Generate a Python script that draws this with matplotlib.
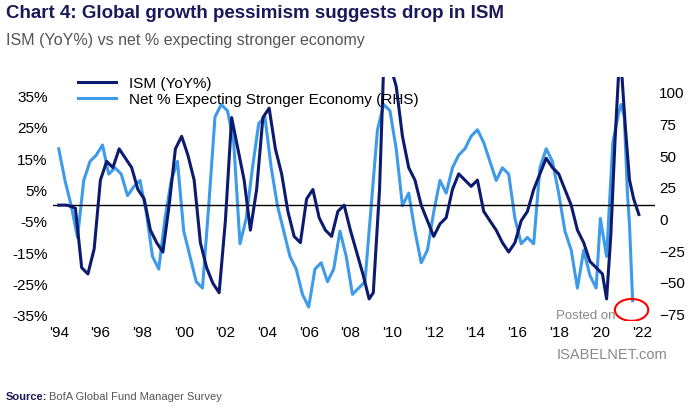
import matplotlib.pyplot as plt
import numpy as np
from matplotlib.patches import Ellipse

plt.rcParams['font.family'] = ['Liberation Sans', 'DejaVu Sans']

ism_x = [1994.0, 1994.4, 1994.8, 1995.1, 1995.4, 1995.7, 1996.0, 1996.3, 1996.6, 1996.9, 1997.2, 1997.5,
         1997.8, 1998.1, 1998.4, 1998.7, 1999.0, 1999.3, 1999.6, 1999.9, 2000.2, 2000.5, 2000.8, 2001.1,
         2001.4, 2001.7, 2002.0, 2002.3, 2002.6, 2002.9, 2003.2, 2003.5, 2003.8, 2004.1, 2004.4, 2004.7,
         2005.0, 2005.3, 2005.6, 2005.9, 2006.2, 2006.5, 2006.8, 2007.1, 2007.4, 2007.7, 2008.0, 2008.3,
         2008.6, 2008.9, 2009.1, 2009.4, 2009.6, 2009.9, 2010.2, 2010.5, 2010.8, 2011.1, 2011.4, 2011.7,
         2012.0, 2012.3, 2012.6, 2012.9, 2013.2, 2013.5, 2013.8, 2014.1, 2014.4, 2014.7, 2015.0, 2015.3,
         2015.6, 2015.9, 2016.2, 2016.5, 2016.8, 2017.1, 2017.4, 2017.7, 2018.0, 2018.3, 2018.6, 2018.9,
         2019.2, 2019.5, 2019.8, 2020.1, 2020.3, 2020.5, 2020.7, 2020.9, 2021.0, 2021.2, 2021.4, 2021.6, 2021.85]
ism_y = [0, 0, -1, -20, -22, -14, 8, 14, 12, 18, 15, 12,
         5, 2, -8, -12, -15, 0, 18, 22, 16, 8, -12, -20,
         -25, -28, -5, 28, 18, 8, -8, 5, 28, 31, 18, 10,
         -2, -10, -12, 2, 5, -4, -8, -10, -2, 0, -8, -15,
         -22, -30, -28, 5, 45, 45, 38, 22, 12, 8, 0, -5,
         -10, -6, -4, 5, 10, 8, 6, 8, -2, -5, -8, -12,
         -15, -12, -5, -2, 5, 10, 15, 12, 10, 5, 0, -8,
         -12, -18, -20, -22, -30, -10, 20, 45, 45, 25, 8, 2, -3]

net_x = [1994.0, 1994.3, 1994.6, 1994.9, 1995.2, 1995.5, 1995.8, 1996.1, 1996.4, 1996.7, 1997.0, 1997.3,
         1997.6, 1997.9, 1998.2, 1998.5, 1998.8, 1999.1, 1999.4, 1999.7, 2000.0, 2000.3, 2000.6, 2000.9,
         2001.2, 2001.5, 2001.8, 2002.1, 2002.4, 2002.7, 2003.0, 2003.3, 2003.6, 2003.9, 2004.2, 2004.5,
         2004.8, 2005.1, 2005.4, 2005.7, 2006.0, 2006.3, 2006.6, 2006.9, 2007.2, 2007.5, 2007.8, 2008.1,
         2008.4, 2008.7, 2009.0, 2009.3, 2009.6, 2009.9, 2010.2, 2010.5, 2010.8, 2011.1, 2011.4, 2011.7,
         2012.0, 2012.3, 2012.6, 2012.9, 2013.2, 2013.5, 2013.8, 2014.1, 2014.4, 2014.7, 2015.0, 2015.3,
         2015.6, 2015.9, 2016.2, 2016.5, 2016.8, 2017.1, 2017.4, 2017.7, 2018.0, 2018.3, 2018.6, 2018.9,
         2019.2, 2019.5, 2019.8, 2020.0, 2020.3, 2020.6, 2020.9, 2021.0, 2021.15, 2021.3, 2021.4, 2021.55]
net_y = [55, 30, 10, -15, 30, 45, 50, 58, 35, 40, 35, 18,
         25, 30, 5, -30, -40, 0, 30, 45, -10, -30, -50, -55,
         10, 80, 90, 85, 60, -20, 0, 40, 75, 80, 40, 10,
         -10, -30, -40, -60, -70, -40, -35, -50, -40, -10, -30, -60,
         -55, -50, 10, 70, 90, 85, 55, 10, 20, -10, -35, -25,
         5, 30, 20, 40, 50, 55, 65, 70, 60, 45, 30, 40,
         35, 0, -20, -15, -20, 40, 55, 45, 20, -10, -25, -55,
         -25, -45, -55, 0, -30, 60, 85, 90, 80, 20, -5, -65]

dark = '#0d1b6e'
light = '#3d9be9'

fig, ax1 = plt.subplots(figsize=(7, 4.1), dpi=100)
fig.subplots_adjust(left=0.075, right=0.935, top=0.81, bottom=0.215)
ax2 = ax1.twinx()
ax1.set_zorder(ax2.get_zorder() + 1)
ax1.patch.set_visible(False)

ax1.axhline(0, color='black', lw=1)
l1, = ax1.plot(ism_x, ism_y, color=dark, lw=2.2, label='ISM (YoY%)')
l2, = ax2.plot(net_x, net_y, color=light, lw=2.2, label='Net % Expecting Stronger Economy (RHS)')

ax1.set_ylim(-37, 41)
ax2.set_ylim(10.5 + 2.47 * -37, 10.5 + 2.47 * 41)
ax1.set_xlim(1993.7, 2022.6)
ax1.set_yticks(range(-35, 36, 10))
ax1.set_yticklabels([f'{v}%' for v in range(-35, 36, 10)])
ax2.set_yticks(range(-75, 101, 25))
ax1.set_xticks(range(1994, 2023, 2))
ax1.set_xticklabels([f"'{y % 100:02d}" for y in range(1994, 2023, 2)])
for ax in (ax1, ax2):
    for s in ax.spines.values():
        s.set_visible(False)
    ax.tick_params(length=0, labelsize=11)
ax1.tick_params(axis='x', pad=3)

ax1.legend([l1, l2], [l1.get_label(), l2.get_label()], loc='upper left', frameon=False,
           fontsize=11, bbox_to_anchor=(0.02, 1.06), handlelength=2.5, labelspacing=0.15)

circ = Ellipse((2021.5, -33.5), 1.6, 7, fill=False, color='red', lw=1.5, zorder=5)
ax1.add_patch(circ)

fig.text(0.008, 0.955, 'Chart 4: Global growth pessimism suggests drop in ISM', fontsize=13.5,
         fontweight='bold', color='#1a1a5a')
fig.text(0.008, 0.89, 'ISM (YoY%) vs net % expecting stronger economy', fontsize=11.5, color='#555555')
fig.text(0.008, 0.025, 'Source:', fontsize=8, fontweight='bold', color='#1a1a5a')
fig.text(0.07, 0.025, 'BofA Global Fund Manager Survey', fontsize=8, color='#555555')
fig.text(0.795, 0.222, 'Posted on', fontsize=9.5, color='#888888')
fig.text(0.795, 0.125, 'ISABELNET.com', fontsize=10.5, color='#888888')

fig.savefig('out.png')
